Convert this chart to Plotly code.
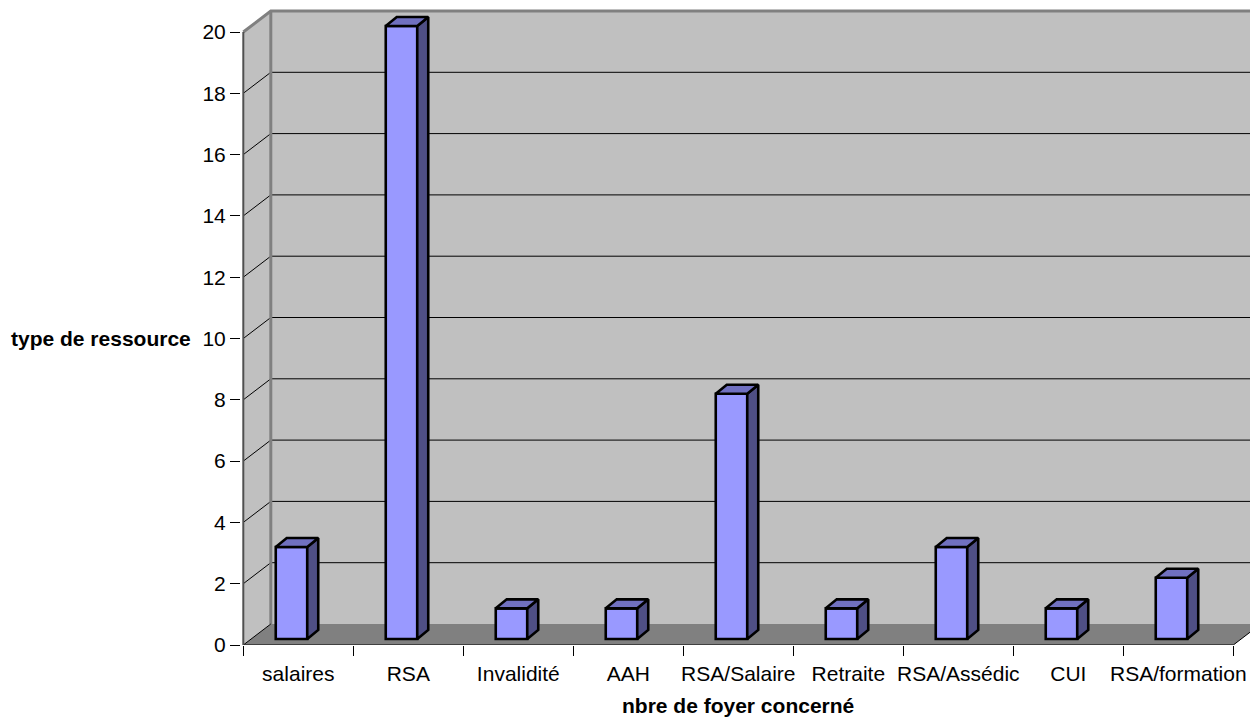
import plotly.graph_objects as go

# ---------------- data ----------------
categories = ["salaires", "RSA", "Invalidité", "AAH", "RSA/Salaire",
              "Retraite", "RSA/Assédic", "CUI", "RSA/formation"]
values = [3, 20, 1, 1, 8, 1, 3, 1, 2]
y_ticks = [0, 2, 4, 6, 8, 10, 12, 14, 16, 18, 20]
x_title = "nbre de foyer concerné"
y_title = "type de ressource"

# ---------------- layout geometry ----------------
W, H = 1250, 717
ML, MB = 241, 72
PX_PER_CAT = 110.0
PX_PER_UNIT = 30.65
FRONT_LEFT_PX = 243.3

n = len(categories)
plot_w = W - ML
plot_h = H - MB
x_lo = -0.5
x_range_lo = x_lo - (FRONT_LEFT_PX - ML) / PX_PER_CAT
x_hi = x_range_lo + plot_w / PX_PER_CAT
y_hi = plot_h / PX_PER_UNIT
x_front_hi = n - 0.5
y_top = y_ticks[-1]

wall_dx = 27.5 / PX_PER_CAT
wall_dy = 21.0 / PX_PER_UNIT
bar_base = 6.0 / PX_PER_UNIT
bar_shift = -6.8 / PX_PER_CAT
bar_w = 31.5 / PX_PER_CAT
dep_dx = 11.0 / PX_PER_CAT
dep_dy = 9.0 / PX_PER_UNIT

FONT = "Liberation Sans, Arial, sans-serif"
FS = 21
EDGE_W = 2.6

shapes = []
# back wall
shapes.append(dict(type="rect", xref="x", yref="y", layer="below",
                   x0=x_lo + wall_dx, x1=x_hi + 1, y0=wall_dy, y1=y_top + wall_dy,
                   fillcolor="#C0C0C0", line=dict(width=0)))
# side wall
shapes.append(dict(type="path", xref="x", yref="y", layer="below",
                   path=f"M {x_lo},0 L {x_lo},{y_top} L {x_lo + wall_dx},{y_top + wall_dy} "
                        f"L {x_lo + wall_dx},{wall_dy} Z",
                   fillcolor="#C0C0C0", line=dict(width=0)))
# floor
shapes.append(dict(type="path", xref="x", yref="y", layer="below",
                   path=f"M {x_lo},0 L {x_front_hi},0 L {x_front_hi + wall_dx},{wall_dy} "
                        f"L {x_lo + wall_dx},{wall_dy} Z",
                   fillcolor="#808080", line=dict(width=0)))
# gridlines on walls
for v in y_ticks[1:-1]:
    shapes.append(dict(type="path", xref="x", yref="y", layer="below",
                       path=f"M {x_lo},{v} L {x_lo + wall_dx},{v + wall_dy} L {x_hi + 1},{v + wall_dy}",
                       line=dict(color="#000000", width=1)))
# top edges of walls
shapes.append(dict(type="path", xref="x", yref="y", layer="below",
                   path=f"M {x_lo},{y_top} L {x_lo + wall_dx},{y_top + wall_dy} L {x_hi + 1},{y_top + wall_dy}",
                   line=dict(color="#808080", width=3)))
# back wall left edge
shapes.append(dict(type="line", xref="x", yref="y", layer="below",
                   x0=x_lo + wall_dx, x1=x_lo + wall_dx, y0=wall_dy, y1=y_top + wall_dy,
                   line=dict(color="#808080", width=3)))
# floor edges
shapes.append(dict(type="path", xref="x", yref="y", layer="below",
                   path=f"M {x_lo + wall_dx},{wall_dy} L {x_lo},0 L {x_front_hi},0 "
                        f"L {x_front_hi + wall_dx},{wall_dy}",
                   line=dict(color="#000000", width=1)))
# vertical axis line (front-left edge of side wall)
shapes.append(dict(type="line", xref="x", yref="y", layer="below",
                   x0=x_lo, x1=x_lo, y0=0, y1=y_top,
                   line=dict(color="#505050", width=2)))

# ---------------- bars ----------------
bar_x = [i + bar_shift for i in range(n)]
fig = go.Figure()
fig.add_trace(go.Bar(x=bar_x, y=values, base=bar_base, width=bar_w,
                     marker=dict(color="#9999FF", line=dict(color="#000000", width=EDGE_W)),
                     hoverinfo="skip", showlegend=False))

top_x, top_y, side_x, side_y = [], [], [], []
for xc, v in zip(bar_x, values):
    x0 = xc - bar_w / 2
    x1 = xc + bar_w / 2
    b = bar_base
    t = bar_base + v
    top_x += [x0, x1, x1 + dep_dx, x0 + dep_dx, x0, None]
    top_y += [t, t, t + dep_dy, t + dep_dy, t, None]
    side_x += [x1, x1, x1 + dep_dx, x1 + dep_dx, x1, None]
    side_y += [b, t, t + dep_dy, b + dep_dy, b, None]

fig.add_trace(go.Scatter(x=side_x, y=side_y, mode="lines", fill="toself",
                         fillcolor="#4F4F85", line=dict(color="#000000", width=EDGE_W),
                         hoverinfo="skip", showlegend=False))
fig.add_trace(go.Scatter(x=top_x, y=top_y, mode="lines", fill="toself",
                         fillcolor="#7070C0", line=dict(color="#000000", width=EDGE_W),
                         hoverinfo="skip", showlegend=False))

fig.update_layout(
    width=W, height=H, autosize=False,
    margin=dict(l=ML, r=0, t=0, b=MB, pad=0),
    paper_bgcolor="white", plot_bgcolor="white",
    font=dict(family=FONT, size=FS, color="#000000"),
    shapes=shapes,
    showlegend=False,
    xaxis=dict(range=[x_range_lo, x_hi], tickmode="array",
               tickvals=list(range(n)), ticktext=categories,
               ticks="", showgrid=False, zeroline=False, showline=False,
               tickfont=dict(size=FS), ticklabelstandoff=14,
               minor=dict(tickmode="array", tickvals=[i - 0.5 for i in range(n + 1)],
                          ticks="outside", ticklen=10, tickcolor="#000000",
                          tickwidth=1, showgrid=False),
               fixedrange=True),
    yaxis=dict(range=[0, y_hi], tickmode="array", tickvals=y_ticks,
               ticks="outside", ticklen=10, tickcolor="#000000", tickwidth=1,
               showgrid=False, zeroline=False, showline=False,
               tickfont=dict(size=FS), fixedrange=True),
    annotations=[
        dict(text=f"<b>{x_title}</b>", xref="x", yref="paper",
             x=(n - 1) / 2, y=-(705 - plot_h) / plot_h,
             xanchor="center", yanchor="middle", showarrow=False,
             font=dict(size=FS)),
        dict(text=f"<b>{y_title}</b>", xref="paper", yref="y",
             x=(193 - ML) / plot_w, y=10,
             xanchor="right", yanchor="middle", showarrow=False,
             font=dict(size=FS)),
    ],
)

fig.write_html("out.html")
